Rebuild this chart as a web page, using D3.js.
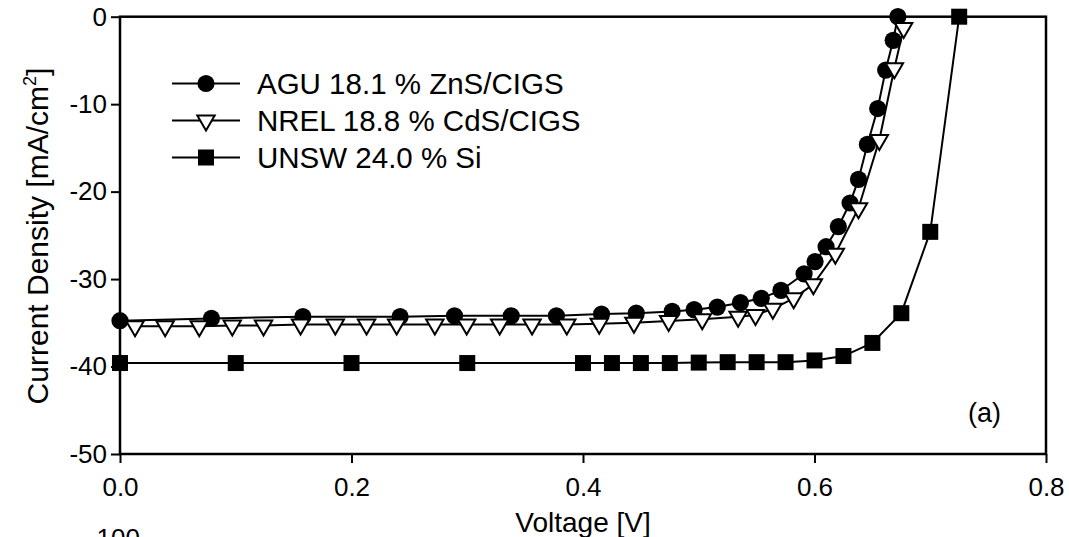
<!DOCTYPE html>
<html>
<head>
<meta charset="utf-8">
<script src="https://cdn.jsdelivr.net/npm/d3@7"></script>
<style>
  body { margin: 0; background: #fff; }
  svg { display: block; }
  text { font-family: "Liberation Sans", Arial, sans-serif; fill: #000; }
</style>
</head>
<body>
<script>
// AGU 18.1 % ZnS/CIGS (filled circles)
var aguV = [0, 0.079, 0.158, 0.242, 0.289, 0.338, 0.377, 0.416, 0.446, 0.477, 0.496, 0.516, 0.536, 0.554, 0.571, 0.591, 0.6005, 0.61, 0.6206, 0.6307, 0.638, 0.6457, 0.6546, 0.6615, 0.668, 0.672];
var aguJ = [-34.76, -34.5, -34.3, -34.3, -34.2, -34.2, -34.2, -34.0, -33.9, -33.7, -33.5, -33.2, -32.7, -32.2, -31.3, -29.4, -28.0, -26.3, -24.0, -21.3, -18.6, -14.6, -10.5, -6.1, -2.7, 0];

// NREL 18.8 % CdS/CIGS (open triangles)
var nrelV = [0.013, 0.039, 0.0685, 0.097, 0.124, 0.156, 0.186, 0.213, 0.239, 0.272, 0.2995, 0.328, 0.356, 0.386, 0.414, 0.444, 0.474, 0.503, 0.534, 0.549, 0.564, 0.582, 0.599, 0.618, 0.638, 0.656, 0.669, 0.677];
var nrelJ = [-35.4, -35.4, -35.4, -35.3, -35.3, -35.2, -35.2, -35.2, -35.2, -35.2, -35.2, -35.2, -35.2, -35.2, -35.1, -35.0, -34.8, -34.6, -34.3, -34.1, -33.4, -32.2, -30.6, -27.1, -21.9, -14.1, -5.9, -1.3];

// UNSW 24.0 % Si (filled squares)
var unswV = [0, 0.1, 0.2, 0.3, 0.4, 0.425, 0.45, 0.475, 0.5, 0.525, 0.55, 0.575, 0.6, 0.625, 0.65, 0.675, 0.7, 0.725];
var unswJ = [-39.6, -39.6, -39.6, -39.6, -39.6, -39.6, -39.6, -39.6, -39.55, -39.5, -39.5, -39.5, -39.3, -38.8, -37.3, -33.9, -24.6, 0];

var xTicks = [0, 0.2, 0.4, 0.6, 0.8];
var yTicks = [0, -10, -20, -30, -40, -50];
var legendLabels = ["AGU 18.1 % ZnS/CIGS", "NREL 18.8 % CdS/CIGS", "UNSW 24.0 % Si"];

var width = 1069, height = 537;
var plot = {left: 120, right: 1046, top: 16.7, bottom: 454};

var svg = d3.select("body").append("svg").attr("width", width).attr("height", height);

var x = d3.scaleLinear().domain([0, 0.8]).range([plot.left, plot.right]);
var y = d3.scaleLinear().domain([-50, 0]).range([plot.bottom, plot.top]);

// axes
var xAxis = svg.append("g").attr("transform", "translate(0," + plot.bottom + ")")
	.call(d3.axisBottom(x).tickValues(xTicks).tickSize(9).tickPadding(15).tickFormat(d3.format(".1f")));
var yAxis = svg.append("g").attr("transform", "translate(" + plot.left + ",0)")
	.call(d3.axisLeft(y).tickValues(yTicks).tickSize(9).tickPadding(4).tickFormat(function(d){ return String(d); }));

[xAxis, yAxis].forEach(function(a){
	a.select(".domain").remove();
	a.selectAll(".tick line").attr("stroke", "#000").attr("stroke-width", 2);
	a.selectAll(".tick text").attr("font-size", 26).attr("font-family", "Liberation Sans, Arial, sans-serif").attr("fill", "#000");
});

// frame
svg.append("rect")
	.attr("x", plot.left).attr("y", plot.top)
	.attr("width", plot.right - plot.left).attr("height", plot.bottom - plot.top)
	.attr("fill", "none").attr("stroke", "#000").attr("stroke-width", 2.5);

// axis titles
svg.append("text").attr("x", 583).attr("y", 532).attr("text-anchor", "middle")
	.attr("font-size", 28).text("Voltage [V]");

var yl = svg.append("text").attr("transform", "translate(48,236) rotate(-90)")
	.attr("text-anchor", "middle").attr("font-size", 30);
yl.append("tspan").text("Current Density [mA/cm");
yl.append("tspan").attr("font-size", 18).attr("dy", -12).text("2");
yl.append("tspan").attr("dy", 12).text("]");

// series
var line = d3.line().x(function(d){ return x(d[0]); }).y(function(d){ return y(d[1]); });
var agu = d3.zip(aguV, aguJ), nrel = d3.zip(nrelV, nrelJ), unsw = d3.zip(unswV, unswJ);

var tri = "M-8.7,-5L8.7,-5L0,10Z";

function drawMarker(g, kind) {
	if (kind === 0) g.append("circle").attr("r", 8.6).attr("fill", "#000");
	else if (kind === 1) g.append("path").attr("d", tri).attr("fill", "#fff").attr("stroke", "#000").attr("stroke-width", 2).attr("stroke-linejoin", "miter");
	else g.append("rect").attr("x", -8).attr("y", -8).attr("width", 16).attr("height", 16).attr("fill", "#000");
}

[agu, nrel, unsw].forEach(function(s, k){
	svg.append("path").datum(s).attr("d", line)
		.attr("fill", "none").attr("stroke", "#000").attr("stroke-width", 2);
	svg.append("g").selectAll("g").data(s).enter().append("g")
		.attr("transform", function(d){ return "translate(" + x(d[0]) + "," + y(d[1]) + ")"; })
		.each(function(){ drawMarker(d3.select(this), k); });
});

// legend
var legend = svg.append("g").selectAll("g").data(legendLabels).enter().append("g")
	.attr("transform", function(d, i){ return "translate(0," + (83.5 + i * 37) + ")"; });
legend.append("line").attr("x1", 172).attr("x2", 240).attr("stroke", "#000").attr("stroke-width", 2);
legend.each(function(d, i){
	var m = d3.select(this).append("g").attr("transform", "translate(206,0)");
	drawMarker(m, i);
});
legend.append("text").attr("x", 257).attr("y", 10.5).attr("font-size", 29.5).text(function(d){ return d; });

// panel label
svg.append("text").attr("x", 1001).attr("y", 422).attr("text-anchor", "end").attr("font-size", 27).text("(a)");

// top of the next panel's tick label, cut off at the page edge
svg.append("text").attr("x", 140).attr("y", 547).attr("text-anchor", "end").attr("font-size", 26).text("100");
</script>
</body>
</html>
